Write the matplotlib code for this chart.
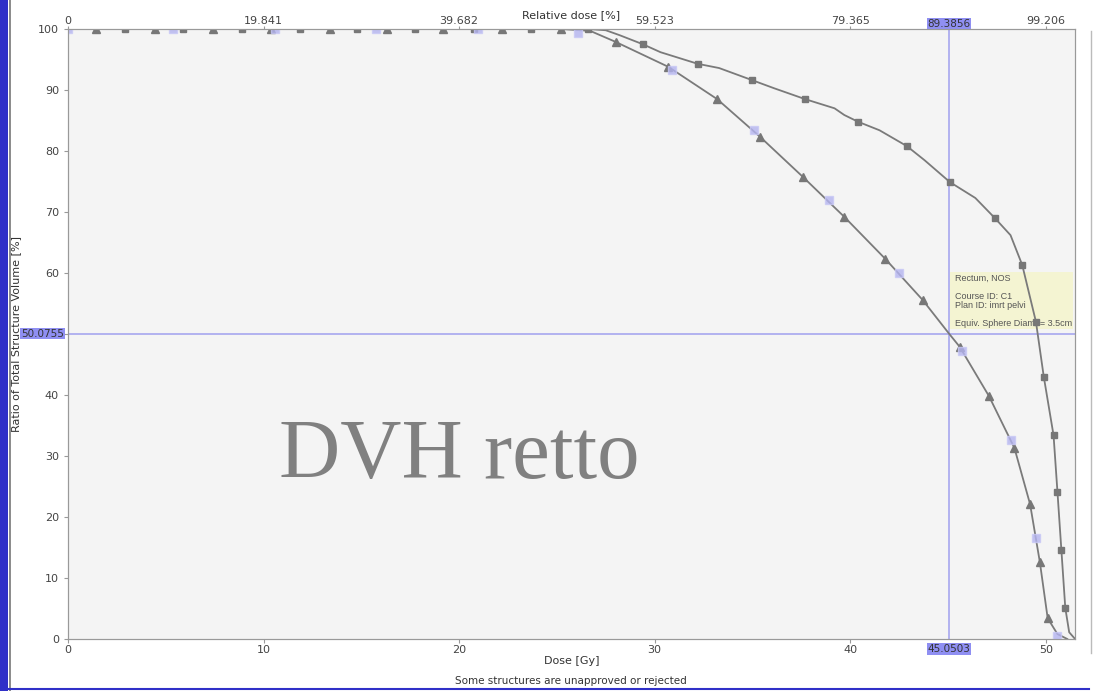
import matplotlib
matplotlib.use("Agg")
import matplotlib.pyplot as plt
from matplotlib.patches import Rectangle
from matplotlib.lines import Line2D

# DVH curves (dose [Gy], volume [%])
tri_dose = [0, 25.2, 26.7, 28.0, 30.7, 33.2, 35.4, 37.6, 39.7, 41.8, 43.7, 45.05,
            45.6, 47.1, 48.4, 49.2, 49.7, 50.1, 50.6, 51.1]
tri_vol = [100, 100, 99.7, 97.9, 93.8, 88.5, 82.3, 75.7, 69.2, 62.3, 55.6, 50.08,
           47.9, 39.8, 31.3, 22.1, 12.6, 3.4, 0.8, 0]

sq_dose = [0, 26.6, 27.5, 28.2, 29.4, 30.3, 31.3, 32.2, 33.3, 35.0, 36.1, 37.7, 39.2,
           39.7, 40.4, 41.5, 42.9, 43.8, 45.1, 46.4, 47.4, 48.2, 48.8, 49.5, 49.9,
           50.4, 50.6, 50.8, 51.0, 51.2, 51.5]
sq_vol = [100, 100, 99.8, 99.0, 97.5, 96.2, 95.2, 94.3, 93.6, 91.6, 90.3, 88.5, 87.0,
          85.9, 84.8, 83.4, 80.8, 78.5, 74.9, 72.3, 69.0, 66.2, 61.3, 52.0, 43.0,
          33.4, 24.1, 14.6, 5.1, 1.1, 0]

# marker samples
tri_mk_dose = [1.45, 4.45, 7.4, 10.4, 13.4, 16.3, 19.2, 22.2, 25.2, 28.0, 30.7, 33.2,
               35.4, 37.6, 39.7, 41.8, 43.7, 45.6, 47.1, 48.4, 49.2, 49.7, 50.1]
tri_mk_vol = [100, 100, 100, 100, 100, 100, 100, 100, 100, 97.9, 93.8, 88.5,
              82.3, 75.7, 69.2, 62.3, 55.6, 47.9, 39.8, 31.3, 22.1, 12.6, 3.4]

sq_mk_dose = [2.9, 5.9, 8.9, 11.85, 14.8, 17.75, 20.75, 23.7, 26.6, 29.4, 32.2, 35.0,
              37.7, 40.4, 42.9, 45.1, 47.4, 48.8, 49.5, 49.9, 50.4, 50.6, 50.8, 51.0]
sq_mk_vol = [100, 100, 100, 100, 100, 100, 100, 100, 100, 97.5, 94.3, 91.6,
             88.5, 84.8, 80.8, 74.9, 69.0, 61.3, 52.0, 43.0, 33.4, 24.1, 14.6, 5.1]

sel_mk_dose = [0, 5.37, 10.6, 15.75, 20.97, 26.1, 30.9, 35.1, 38.9, 42.5, 45.7, 48.2, 49.5, 50.6]
sel_mk_vol = [100, 100, 100, 100, 100, 99.3, 93.3, 83.4, 72.0, 60.0, 47.2, 32.6, 16.6, 0.5]

x_ticks = [0, 10, 20, 30, 40, 50]
y_ticks = [0, 10, 20, 30, 40, 50, 60, 70, 80, 90, 100]
# "50" is hidden behind the cursor value label
y_labels = ["0", "10", "20", "30", "40", "", "60", "70", "80", "90", "100"]
rel_labels = ["0", "19.841", "39.682", "59.523", "79.365", "99.206"]

cursor_dose = 45.0503
cursor_vol = 50.0755
cursor_rel = "89.3856"

fig = plt.figure(figsize=(10.97, 6.91), dpi=100)
ax = fig.add_axes([0.062, 0.0753, 0.918, 0.8827])
ax.set_facecolor("#f4f4f4")

line_c = "#7a7a7a"
ax.plot(tri_dose, tri_vol, color=line_c, lw=1.3, zorder=3)
ax.plot(sq_dose, sq_vol, color=line_c, lw=1.3, zorder=3)
ax.plot(tri_mk_dose, tri_mk_vol, ls="none", marker="^", ms=6, color="#777777", zorder=4)
ax.plot(sq_mk_dose, sq_mk_vol, ls="none", marker="s", ms=4, color="#777777", zorder=4)
ax.plot(sel_mk_dose, sel_mk_vol, ls="none", marker="s", ms=5.5, color="#b4b4f0",
        alpha=0.8, mec="#c8c8f5", zorder=5)

# crosshair
cross_c = "#a0a0ee"
ax.axvline(cursor_dose, color=cross_c, lw=1.1, zorder=2)
ax.axhline(cursor_vol, color=cross_c, lw=1.1, zorder=2)

ax.set_xlim(0, 51.5)
ax.set_ylim(0, 100)
ax.set_xticks(x_ticks)
ax.set_yticks(y_ticks)
ax.set_yticklabels(y_labels)
for s in ax.spines.values():
    s.set_color("#999999")
ax.tick_params(colors="#999999", labelcolor="#444444", labelsize=8, length=3)
ax.tick_params(axis="x", pad=1)
ax.set_xlabel("Dose [Gy]", fontsize=8, color="#333333", labelpad=1)
ax.set_ylabel("Ratio of Total Structure Volume [%]", fontsize=8, color="#333333", labelpad=12)

top = ax.twiny()
top.set_xlim(ax.get_xlim())
top.set_xticks(x_ticks)
top.set_xticklabels(rel_labels)
top.tick_params(colors="#999999", labelcolor="#444444", labelsize=8, length=2, pad=0)
top.set_xlabel("Relative dose [%]", fontsize=8, color="#333333", labelpad=-1)
for s in top.spines.values():
    s.set_color("#999999")

# highlighted cursor values
hl = dict(boxstyle="square,pad=0.08", fc="#8f8ff2", ec="none")
ax.text(cursor_dose, 1.0, cursor_rel, transform=ax.get_xaxis_transform(), ha="center",
        va="bottom", fontsize=7.5, color="#333333", bbox=hl, zorder=6)
ax.text(cursor_dose, -0.008, "%.4f" % cursor_dose, transform=ax.get_xaxis_transform(),
        ha="center", va="top", fontsize=7.5, color="#333333", bbox=hl, zorder=6)
ax.text(-0.004, cursor_vol, "%.4f" % cursor_vol, transform=ax.get_yaxis_transform(),
        ha="right", va="center", fontsize=7.5, color="#333333", bbox=hl, zorder=6)

# tooltip
ax.add_patch(Rectangle((45.1, 50.9), 6.3, 9.2, fc="#f4f4d2", ec="none", zorder=2))
ax.text(45.35, 59.9, "Rectum, NOS\n\nCourse ID: C1\nPlan ID: imrt pelvi\n\nEquiv. Sphere Diam. = 3.5cm",
        fontsize=6.5, color="#555555", va="top", ha="left", family="Liberation Sans",
        linespacing=1.0, zorder=3)

ax.text(20.0, 29.7, "DVH retto", fontsize=61, color="#808080",
        family="Liberation Serif", ha="center", va="center", zorder=6)

fig.text(0.52, 0.0145, "Some structures are unapproved or rejected", fontsize=7.5,
         color="#333333", ha="center", va="center")

# window frame
fig.add_artist(Rectangle((0, 0), 0.0075, 1, transform=fig.transFigure, fc="#3030c8", ec="none"))
fig.add_artist(Line2D([0.0095, 0.0095], [0, 1], transform=fig.transFigure, color="#777777", lw=1.2))
fig.add_artist(Line2D([0, 0.993], [0.003, 0.003], transform=fig.transFigure, color="#3030c8", lw=1.5))
fig.add_artist(Line2D([0.9945, 0.9945], [0.055, 0.955], transform=fig.transFigure, color="#bbbbbb", lw=1))

fig.savefig("out.png", dpi=100)
